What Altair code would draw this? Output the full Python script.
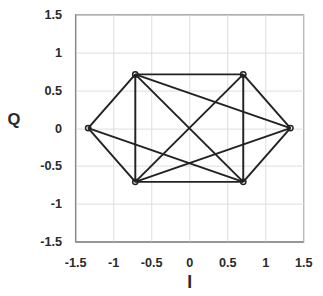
import altair as alt
import pandas as pd

# constellation points (I, Q)
I_vals = [-1.33, -0.71, 0.71, 1.33, 0.71, -0.71]
Q_vals = [0.0, 0.71, 0.71, 0.0, -0.71, -0.71]
# connections between points (indices)
edge_from = [0, 0, 0, 1, 1, 1, 1, 2, 2, 2, 3, 3, 4]
edge_to   = [1, 5, 4, 2, 5, 4, 3, 3, 4, 5, 4, 5, 5]
ticks = [-1.5, -1.0, -0.5, 0.0, 0.5, 1.0, 1.5]

pts = pd.DataFrame({"I": I_vals, "Q": Q_vals})
edges = pd.DataFrame({
    "x": [I_vals[a] for a in edge_from],
    "y": [Q_vals[a] for a in edge_from],
    "x2": [I_vals[b] for b in edge_to],
    "y2": [Q_vals[b] for b in edge_to],
})

xs = alt.Scale(domain=[-1.5, 1.5], nice=False, zero=False)
ys = alt.Scale(domain=[-1.5, 1.5], nice=False, zero=False)

font = "Liberation Sans"
common = dict(values=ticks, tickCount=20, labelExpr="toString(datum.value)", grid=True,
              gridColor="#dddddd", ticks=False, domainColor="#777777", labelFont=font,
              labelFontWeight="bold", labelFontSize=13, labelColor="#2a2a2a",
              labelFlush=False, labelOverlap=False,
              titleFont=font, titleFontWeight="bold", titleColor="#2a2a2a")
xaxis = alt.Axis(title="I", labelPadding=15, titleFontSize=18, titlePadding=5, **common)
yaxis = alt.Axis(title="Q", labelPadding=14, titleFontSize=17, titleAngle=0,
                 titlePadding=27, **common)

lines = alt.Chart(edges).mark_rule(color="#222222", strokeWidth=2).encode(
    x=alt.X("x:Q", scale=xs, axis=xaxis),
    y=alt.Y("y:Q", scale=ys, axis=yaxis),
    x2="x2:Q", y2="y2:Q",
)
points = alt.Chart(pts).mark_point(shape="circle", size=30, filled=False, color="#222222",
                                   strokeWidth=1.5, opacity=1).encode(
    x=alt.X("I:Q", scale=xs), y=alt.Y("Q:Q", scale=ys)
)

chart = alt.layer(lines, points).properties(
    width=234, height=233,
    autosize=alt.AutoSizeParams(type="none"),
    padding={"left": 69, "top": 3, "right": 12, "bottom": 52},
).configure_view(stroke="#666666", strokeWidth=1.2)

chart.save("out.html", embed_options={"renderer": "svg", "actions": False})
